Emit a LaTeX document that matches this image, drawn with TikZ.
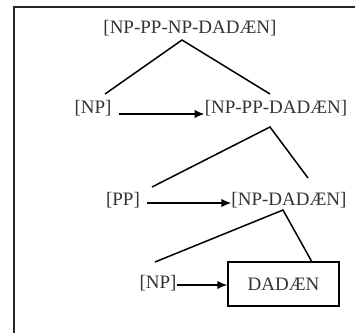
\documentclass[tikz,border=0pt]{standalone}
\usepackage{fontspec}
\setmainfont{Liberation Serif}
\usetikzlibrary{arrows.meta}
\definecolor{txt}{HTML}{333333}
\begin{document}
\begin{tikzpicture}[x=1pt,y=-1pt,
  lab/.style={inner sep=0pt,text=txt,font=\fontsize{19}{20}\selectfont},
  leg/.style={line width=1.5pt,black},
  arr/.style={line width=1.5pt,black,-{Latex[length=10pt,width=8.5pt]}},
  frame/.style={line width=2pt,black!85}]
\useasboundingbox (0,0) rectangle (355,333);
\draw[frame] (355,7) -- (14,7) -- (14,333);
% nodes
\node[lab] (top) at (190,28) {[NP-PP-NP-DADÆN]};
\node[lab] (np1) at (93,108) {[NP]};
\node[lab] (nppp) at (276,108) {[NP-PP-DADÆN]};
\node[lab] (pp) at (123,200) {[PP]};
\node[lab] (npd) at (289,200) {[NP-DADÆN]};
\node[lab] (np2) at (158,283) {[NP]};
\node[draw,line width=1.5pt,black,minimum width=111pt,minimum height=44pt,inner sep=0pt,text=txt,font=\fontsize{19}{20}\selectfont] (dad) at (283.5,284) {DADÆN};
% tree legs
\coordinate (a1) at (182,40);
\coordinate (l1) at (105,94);
\coordinate (r1) at (270,94);
\coordinate (a2) at (270,127);
\coordinate (l2) at (152,187);
\coordinate (r2) at (308,178);
\coordinate (a3) at (283,210);
\coordinate (l3) at (155,262);
\coordinate (r3) at (312,262);
\draw[leg] (l1) -- (a1) -- (r1);
\draw[leg] (l2) -- (a2) -- (r2);
\draw[leg] (l3) -- (a3) -- (r3);
% arrows
\draw[arr] (np1.east) ++(7,6) coordinate (s1) -- (nppp.west |- s1);
\draw[arr] (pp.east) ++(7,3) coordinate (s2) -- (npd.west |- s2);
\draw[arr] (np2.east) ++(0,2) coordinate (s3) -- (dad.west |- s3);
\end{tikzpicture}
\end{document}
